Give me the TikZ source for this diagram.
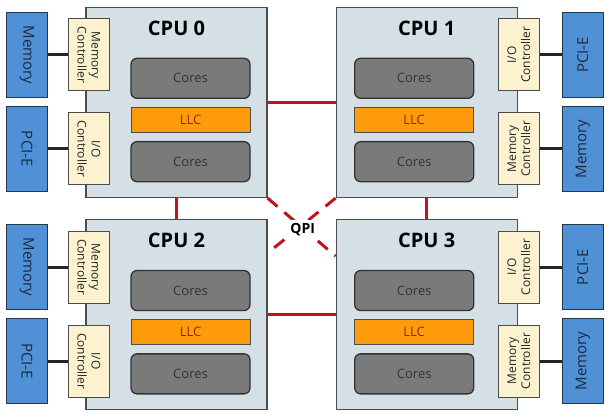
\documentclass[tikz,border=0pt]{standalone}
\usepackage{fontspec}
\setmainfont{Open Sans}
\usetikzlibrary{positioning}
\definecolor{cpufill}{HTML}{D4E0E6}
\definecolor{corefill}{HTML}{7A7A7A}
\definecolor{llcfill}{HTML}{FF9A0A}
\definecolor{llctext}{HTML}{8B2A10}
\definecolor{extfill}{HTML}{5090D6}
\definecolor{extline}{HTML}{22364F}
\definecolor{ctrlfill}{HTML}{FCF2CF}
\definecolor{qpired}{HTML}{C1121F}
\tikzset{cpu box/.style={draw=black!70, fill=cpufill, line width=1.2pt, minimum width=181pt, minimum height=190pt},
	cpu title/.style={font=\fontsize{20}{22}\selectfont\bfseries, inner sep=0pt},
	core box/.style={draw=black!80, fill=corefill, rounded corners=6pt, line width=1.3pt, minimum width=119pt, minimum height=40pt, text=black!80, font=\fontsize{13}{15}\selectfont},
	llc box/.style={draw=black!70, fill=llcfill, line width=1pt, minimum width=119pt, minimum height=25pt, text=llctext, font=\fontsize{13}{15}\selectfont},
	ctrl box/.style={draw=black!70, fill=ctrlfill, line width=1pt, minimum width=72pt, minimum height=41pt, inner sep=1pt, align=center, text=black!85, font=\fontsize{12}{14}\selectfont},
	ext box/.style={draw=extline, fill=extfill, line width=1.2pt, minimum width=85pt, minimum height=41pt, text=extline!80!black, font=\fontsize{15}{17}\selectfont},
	bus/.style={line width=3pt, black!85},
	qpi link/.style={line width=3pt, qpired},
	qpi dash/.style={qpi link, dash pattern=on 13pt off 9pt},
	qpi label/.style={fill=white, inner sep=3pt, font=\fontsize{14}{16}\selectfont\bfseries},}

\begin{document}
\begin{tikzpicture}[x=1pt, y=-1pt]
	\useasboundingbox (0,0) rectangle (613,417);
	% Processors
	\node[cpu box] (cpu0) at (176.5,102.5) {};
	\node[cpu box] [right = 68pt of cpu0] (cpu1) {};
	\node[cpu box] [below = 21pt of cpu0] (cpu2) {};
	\node[cpu box] [right = 68pt of cpu2] (cpu3) {};
	% Interconnect
	\coordinate (q2) at ([yshift=-34pt]cpu2.north east);
	\coordinate (q3) at ([yshift=-37pt]cpu3.north west);
	\path[qpi link]
	(cpu0) edge (cpu1)
	(cpu2) edge (cpu3)
	(cpu0) edge (cpu2)
	(cpu1) edge (cpu3);
	\draw[qpi dash] (cpu0.south east) -- (q3);
	\draw[qpi dash] (cpu1.south west) -- (q2);
	\node[qpi label] (qpi) at ([xshift=2pt, yshift=-3pt]intersection of cpu0.south east--q3 and cpu1.south west--q2) {QPI};
	% CPU 0
	\node[cpu title] (title0) at ([yshift=-21pt]cpu0.north) {CPU 0};
	\node[llc box] (llc0) at ([xshift=14pt, yshift=-17.5pt]cpu0.center) {LLC};
	\node[core box] [above = 8pt of llc0] (coresA0) {Cores};
	\node[core box] [below = 8pt of llc0] (coresB0) {Cores};
	\node[ctrl box, rotate=-90] (mc0) at ([xshift=3.5pt, yshift=-48pt]cpu0.north west) {Memory\\Controller};
	\node[ctrl box, rotate=-90] (io0) at ([xshift=3.5pt, yshift=-142pt]cpu0.north west) {I/O\\Controller};
	\node[ext box, rotate=-90] (mem0) at ([xshift=-58.5pt, yshift=-48pt]cpu0.north west) {Memory};
	\node[ext box, rotate=-90] (pci0) at ([xshift=-58.5pt, yshift=-142pt]cpu0.north west) {PCI-E};
	% CPU 1
	\node[cpu title] (title1) at ([yshift=-21pt]cpu1.north) {CPU 1};
	\node[llc box] (llc1) at ([xshift=-12.5pt, yshift=-17.5pt]cpu1.center) {LLC};
	\node[core box] [above = 8pt of llc1] (coresA1) {Cores};
	\node[core box] [below = 8pt of llc1] (coresB1) {Cores};
	\node[ctrl box, rotate=90] (io1) at ([xshift=1pt, yshift=-48pt]cpu1.north east) {I/O\\Controller};
	\node[ctrl box, rotate=90] (mc1) at ([xshift=1pt, yshift=-142pt]cpu1.north east) {Memory\\Controller};
	\node[ext box, rotate=90] (pci1) at ([xshift=65pt, yshift=-48pt]cpu1.north east) {PCI-E};
	\node[ext box, rotate=90] (mem1) at ([xshift=65pt, yshift=-142pt]cpu1.north east) {Memory};
	% CPU 2
	\node[cpu title] (title2) at ([yshift=-21pt]cpu2.north) {CPU 2};
	\node[llc box] (llc2) at ([xshift=14pt, yshift=-17.5pt]cpu2.center) {LLC};
	\node[core box] [above = 8pt of llc2] (coresA2) {Cores};
	\node[core box] [below = 8pt of llc2] (coresB2) {Cores};
	\node[ctrl box, rotate=-90] (mc2) at ([xshift=3.5pt, yshift=-48pt]cpu2.north west) {Memory\\Controller};
	\node[ctrl box, rotate=-90] (io2) at ([xshift=3.5pt, yshift=-142pt]cpu2.north west) {I/O\\Controller};
	\node[ext box, rotate=-90] (mem2) at ([xshift=-58.5pt, yshift=-48pt]cpu2.north west) {Memory};
	\node[ext box, rotate=-90] (pci2) at ([xshift=-58.5pt, yshift=-142pt]cpu2.north west) {PCI-E};
	% CPU 3
	\node[cpu title] (title3) at ([yshift=-21pt]cpu3.north) {CPU 3};
	\node[llc box] (llc3) at ([xshift=-12.5pt, yshift=-17.5pt]cpu3.center) {LLC};
	\node[core box] [above = 8pt of llc3] (coresA3) {Cores};
	\node[core box] [below = 8pt of llc3] (coresB3) {Cores};
	\node[ctrl box, rotate=90] (io3) at ([xshift=1pt, yshift=-48pt]cpu3.north east) {I/O\\Controller};
	\node[ctrl box, rotate=90] (mc3) at ([xshift=1pt, yshift=-142pt]cpu3.north east) {Memory\\Controller};
	\node[ext box, rotate=90] (pci3) at ([xshift=65pt, yshift=-48pt]cpu3.north east) {PCI-E};
	\node[ext box, rotate=90] (mem3) at ([xshift=65pt, yshift=-142pt]cpu3.north east) {Memory};
	% Buses
	\path[bus]
	(mem0) edge (mc0) (pci0) edge (io0)
	(pci1) edge (io1) (mem1) edge (mc1)
	(mem2) edge (mc2) (pci2) edge (io2)
	(pci3) edge (io3) (mem3) edge (mc3);
\end{tikzpicture}
\end{document}
